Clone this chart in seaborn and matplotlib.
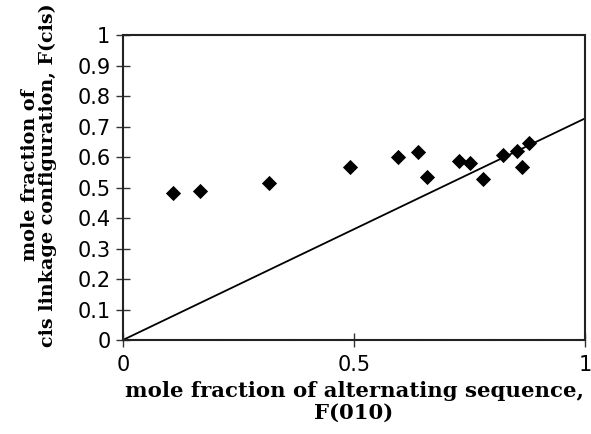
import numpy as np
import pandas as pd
import seaborn as sns
import matplotlib.pyplot as plt

# data
f010 = [0.108, 0.167, 0.316, 0.491, 0.595, 0.639, 0.659, 0.727, 0.750, 0.779, 0.823, 0.852, 0.863, 0.879]
fcis = [0.483, 0.489, 0.516, 0.566, 0.599, 0.617, 0.535, 0.587, 0.579, 0.529, 0.606, 0.620, 0.566, 0.645]

# reference line
line_x = [0, 1]
line_y = [0, 0.727]

x_ticks = [0, 0.5, 1]
x_ticklabels = ["0", "0.5", "1"]
y_ticks = [0, 0.1, 0.2, 0.3, 0.4, 0.5, 0.6, 0.7, 0.8, 0.9, 1]
y_ticklabels = ["0", "0.1", "0.2", "0.3", "0.4", "0.5", "0.6", "0.7", "0.8", "0.9", "1"]

df = pd.DataFrame({"F(010)": f010, "F(cis)": fcis})
df_line = pd.DataFrame({"x": line_x, "y": line_y})

sns.set_style("white", {"xtick.bottom": True, "ytick.left": True,
                        "text.color": "black", "axes.labelcolor": "black"})
plt.rcParams['font.family'] = ['DejaVu Sans']

fig = plt.figure(figsize=(5.91, 4.34), dpi=100)
ax = fig.add_axes([0.208, 0.2166, 0.782, 0.7024])

sns.lineplot(data=df_line, x="x", y="y", ax=ax, color="black", linewidth=1.3)
sns.scatterplot(data=df, x="F(010)", y="F(cis)", ax=ax, marker="D", s=60,
                color="black", edgecolor="black", linewidth=0, zorder=3)

ax.set_xlim(0, 1)
ax.set_ylim(0, 1)
ax.set_xticks(x_ticks)
ax.set_xticklabels(x_ticklabels)
ax.set_yticks(y_ticks)
ax.set_yticklabels(y_ticklabels)
ax.tick_params(axis="both", which="major", bottom=True, left=True,
               direction="inout", length=10, width=1.0,
               labelsize=15, color="#333333", labelcolor="black")
ax.tick_params(axis="x", pad=6)
ax.tick_params(axis="y", pad=4)

# dotted frame all round
for side in ["top", "right", "bottom", "left"]:
    ax.spines[side].set_visible(True)
    ax.spines[side].set_linestyle((0, (1.2, 0.8)))
    ax.spines[side].set_linewidth(1.5)
    ax.spines[side].set_color("#222222")

ax.set_xlabel("mole fraction of alternating sequence,\nF(010)", color="black",
              family="DejaVu Serif", weight="bold", size=15.3, linespacing=1.1)
ax.xaxis.set_label_coords(0.5, -0.135)

ax.set_ylabel("mole fraction of\ncis linkage configuration, F(cis)", color="black",
              family="DejaVu Serif", weight="bold", size=13.8, linespacing=1.0)
ax.yaxis.set_label_coords(-0.143, 0.54)

fig.savefig("out.png", dpi=100)
